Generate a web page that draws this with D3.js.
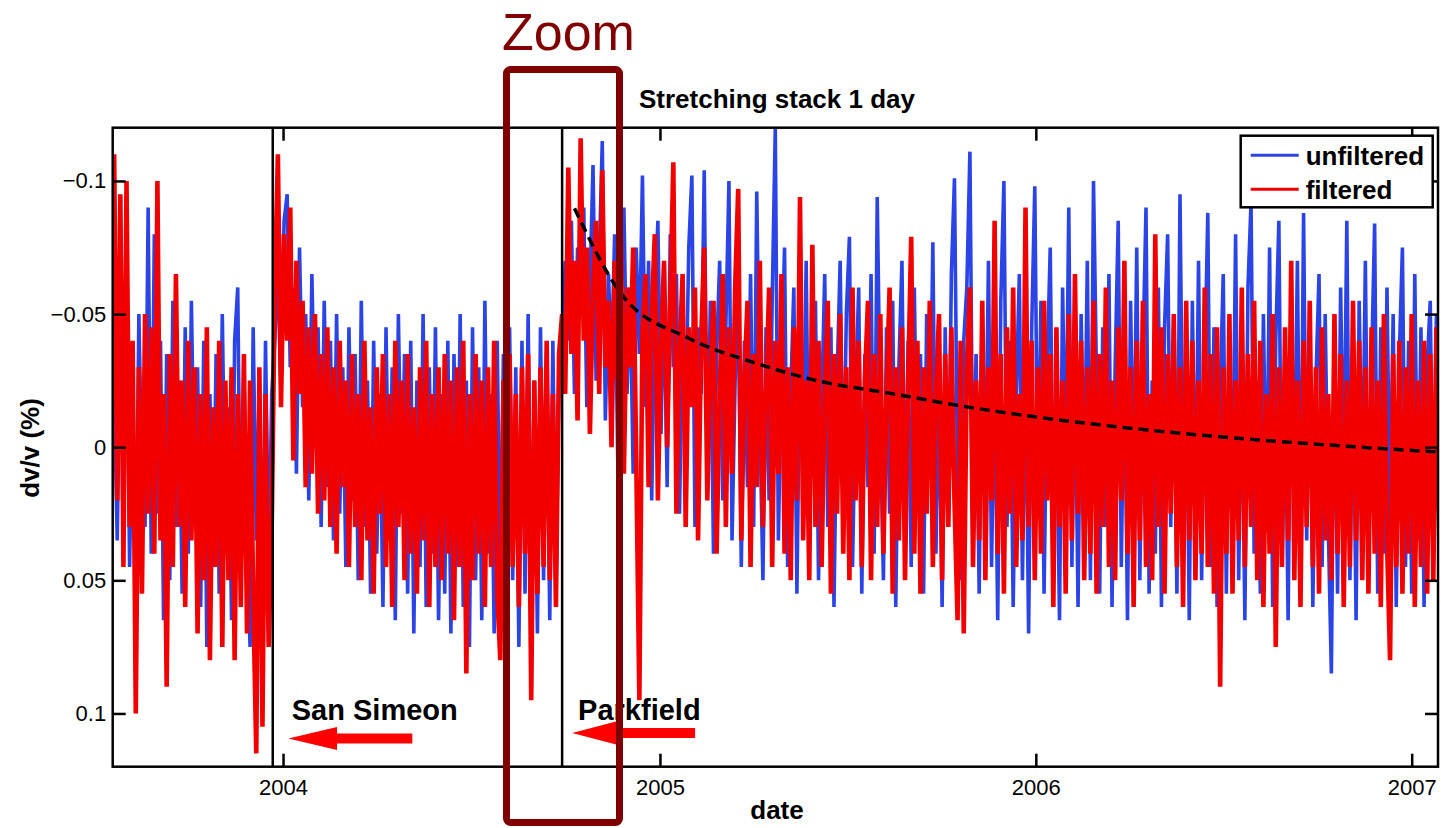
<!DOCTYPE html>
<html>
<head>
<meta charset="utf-8">
<script src="https://cdn.jsdelivr.net/npm/d3@7"></script>
<style>
  body { margin: 0; background: #fff; }
  text { font-family: "Liberation Sans", Arial, Helvetica, sans-serif; }
</style>
</head>
<body>
<svg id="chart"></svg>
<script>
// dv/v, one sample every 3 days from 2003-07-21, in units of 0.001 %
const sampleStart = "2003-07-21";
const sampleStepDays = 3;

const unfilteredBeforeSanSimeon = [
  -20,35,-45,20,-60,45,-30,60,-50,15,30,-90,40,-80,25,-40,65,-35,50,-55,
  30,-25,55,-45,40,-55,20,-30,60,-40,75,-20,45,-35,55,-50,30,-15,65,-40,
  -60,50,-30,40,75,-45,35,-25,60,-40,50,-20
];
const unfilteredBeforeParkfield = [
  -40,-70,-20,-85,-95,-30,-60,10,-75,-15,-50,20,-65,-5,-45,30,-55,15,-40,35,
  -50,25,-30,45,-45,20,-35,50,-55,30,-25,55,-40,40,-20,60,-45,35,-30,65,
  -50,25,-35,55,-40,70,-25,45,-50,60,-30,40,-45,65,-20,55,-40,70,-35,45,
  -50,60,-25,75,-45,50,-30,65,-55,40,-20,70,-40,55,-35,65,-45,50,-30,75,
  -40,55,-50,60,-25,70,-45,50,-35,65,-40,55,-30
];
const unfilteredAfterParkfield = [
  -30,-70,-40,-85,-20,-75,-50,-90,-15,-60,-106,-25,-70,-115,-10,-65,-30,-80,5,-55,
  -90,-20,-60,10,-75,-35,-102,-15,-70,20,-55,-85,-5,-60,15,-80,-30,-65,25,-50,
  -10,-75,-102,30,-45,-20,-104,10,-55,40,-35,-70,20,-45,-100,35,-25,-60,45,-40,
  15,-65,30,-96,-10,50,-45,20,-55,-120,35,-30,-75,45,-20,-60,55,-40,10,-70,
  40,-35,-55,50,-15,-65,30,-45,60,-25,-70,25,-50,-79,45,-20,-60,55,-35,15,
  -65,40,-94,-10,50,-45,25,-55,60,-30,-70,35,-40,45,-60,20,-35,55,-50,10,
  -77,40,-25,60,-45,30,-65,-101,15,50,-40,-60,-111,25,-35,55,-50,20,-70,45,
  -30,65,-55,-100,30,-40,60,-20,-65,50,-35,70,-45,-98,25,-55,55,-30,-75,40,
  -20,65,-60,15,-90,45,-35,60,-50,20,-70,50,-100,-25,55,-45,30,-65,60,-30,
  -85,45,-40,65,-55,20,-75,50,-35,-90,55,-25,40,-60,60,-45,-80,30,-50,55,
  -95,20,-40,65,-55,35,-70,50,-30,-88,45,-45,60,-20,-65,55,-40,25,-80,50,
  -35,65,-60,-92,40,-25,55,-50,30,-75,60,-40,-85,45,-30,65,-55,20,-70,50,
  -88,35,-45,60,-25,-65,45,-50,30,85,-40,55,-60,20,-85,50,-35,65,-55,25,
  -70,45,-30,-84,55,-45,40,-60,30,-50,60,-35,-75,45,-40,55,-65,35,-45,60,-30,-55,40,-50,30
];

const filteredBeforeSanSimeon = [
  -110,20,-95,45,-100,30,-40,100,-30,55,-50,25,-45,40,-100,35,-20,90,-35,45,
  -65,30,-25,60,-40,35,-30,70,-20,50,-45,80,-15,45,-40,75,-25,50,-30,80,
  -20,60,-35,70,-25,55,115,-30,105,-20,75,30
];
const filteredBeforeParkfield = [
  -60,-110,-15,-80,-40,-90,5,-70,-20,-55,15,-45,10,-50,25,-35,20,-45,30,-30,
  40,-40,15,-25,45,-35,30,-20,50,-40,35,-15,55,-30,25,-35,45,-20,60,-40,
  30,-25,50,-35,40,-15,55,-30,35,-40,60,-20,45,-30,50,-35,40,-25,65,-30,
  45,-40,85,-20,50,-35,40,-25,60,-30,45,-40,55,80,-25,50,-35,45,-20,60,
  -30,40,-35,95,-25,55,-30,45,-40,50,-20,60,-35
];
const filteredAfterParkfield = [
  -50,-20,-105,-35,-70,-10,-116,-40,-75,-5,-60,-85,-20,-104,-30,-55,0,-70,-25,-80,
  10,-60,-30,-75,5,95,-45,-65,15,-50,-80,20,-40,-70,0,-55,-107,25,-35,-65,
  30,-45,-15,-60,35,-40,-75,20,-30,-55,40,-20,-65,30,-45,10,-60,-97,35,-25,
  -55,45,-35,15,-70,30,-20,-60,45,-40,10,-65,40,-30,50,-45,20,-94,35,-25,
  50,-76,30,-40,45,-20,-55,55,-35,25,-50,40,-30,50,-60,20,-40,45,-25,-55,
  50,-35,30,-50,40,-20,-60,55,-30,35,-45,50,-25,-79,40,-40,55,-30,25,-55,
  45,-20,-50,50,-35,30,-45,20,65,-40,70,-30,-60,45,-25,35,-55,50,-30,20,
  -85,40,-35,55,-45,25,-60,45,-20,35,-90,30,-40,50,-30,40,-55,20,-35,60,
  -45,30,-25,55,-50,35,-65,25,-40,50,-30,40,-55,55,-35,30,-60,45,-25,50,
  -45,20,-70,40,-30,60,-40,35,-55,45,-20,50,-80,30,-45,55,-35,25,-50,45,
  -30,60,-55,35,-40,50,-25,40,-60,45,-35,55,-45,90,-30,40,-50,55,-25,35,
  -60,45,-35,30,-55,50,-40,60,-20,40,-50,75,-30,45,-45,35,-70,50,-25,60,
  -40,30,-55,45,-30,55,-45,35,-20,50,-50,40,-35,60,-25,45,-55,35,-40,50,
  -30,55,-45,40,-25,60,-50,35,80,-35,45,-40,55,-30,40,-50,60,-25,45,-40,55,-35,50,-45,40
];

// relaxation fit after Parkfield (dashed curve), dv/v in %
const fitDates = ["2004-10-10","2004-11-25","2005-01-28","2005-04-03","2005-06-07","2005-08-10",
                  "2005-10-27","2006-03-04","2006-06-09","2006-09-14","2007-01-26"];
const fitValues = [-0.0897,-0.0573,-0.0411,-0.0317,-0.0246,-0.0204,-0.0151,-0.0084,-0.0046,-0.0016,0.0018];

const eventNames = ["San Simeon", "Parkfield"];
const eventDates = ["2003-12-22", "2004-09-28"];

const yearTicks = [2004, 2005, 2006, 2007];
const dvvTicks = [-0.1, -0.05, 0, 0.05, 0.1];
const seriesNames = ["unfiltered", "filtered"];
const seriesColors = ["#2b44e6", "#f20000"];
const seriesWidths = [3.6, 4.6];

// ---- layout
const width = 1441, height = 828;
const plot = { left: 112.7, top: 127.7, right: 1438, bottom: 766.7 };
const plotW = plot.right - plot.left, plotH = plot.bottom - plot.top;
const parseDay = d3.timeParse("%Y-%m-%d");

const svg = d3.select("#chart").attr("width", width).attr("height", height);
svg.append("rect").attr("width", width).attr("height", height).attr("fill", "#fff");

const x = d3.scaleTime()
    .domain([new Date(2003, 6, 19, 14), new Date(2007, 0, 26, 13)])
    .range([0, plotW]);
const y = d3.scaleLinear().domain([-0.12, 0.12]).range([0, plotH]);

const start = parseDay(sampleStart);
const toSeries = parts => [].concat(...parts).map((v, i) => ({
    date: d3.timeDay.offset(start, i * sampleStepDays),
    value: v / 1000
}));
const series = [
    toSeries([unfilteredBeforeSanSimeon, unfilteredBeforeParkfield, unfilteredAfterParkfield]),
    toSeries([filteredBeforeSanSimeon, filteredBeforeParkfield, filteredAfterParkfield])
];

const g = svg.append("g").attr("transform", `translate(${plot.left},${plot.top})`);
svg.append("defs").append("clipPath").attr("id", "clip")
    .append("rect").attr("width", plotW).attr("height", plotH);

const line = d3.line().x(d => x(d.date)).y(d => y(d.value));
const lines = g.append("g").attr("clip-path", "url(#clip)");
series.forEach((s, k) => {
    lines.append("path")
        .datum(s)
        .attr("fill", "none")
        .attr("stroke", seriesColors[k])
        .attr("stroke-width", seriesWidths[k])
        .attr("stroke-linejoin", "bevel")
        .attr("d", line);
});

// fitted decay
const fit = fitDates.map((d, i) => ({ date: parseDay(d), value: fitValues[i] }));
lines.append("path")
    .datum(fit)
    .attr("fill", "none")
    .attr("stroke", "#000")
    .attr("stroke-width", 3.5)
    .attr("stroke-dasharray", "10,6")
    .attr("d", line.curve(d3.curveMonotoneX));

// earthquake markers
const events = eventNames.map((n, i) => ({ name: n, date: parseDay(eventDates[i]) }));
g.selectAll(".event")
    .data(events)
    .join("line")
    .attr("class", "event")
    .attr("x1", d => x(d.date)).attr("x2", d => x(d.date))
    .attr("y1", 0).attr("y2", plotH)
    .attr("stroke", "#000")
    .attr("stroke-width", 2.5);

// axes, matlab style: ticks inside on all four sides
const yearDates = yearTicks.map(yr => new Date(yr, 0, 1));
const styleAxis = sel => {
    sel.select(".domain").remove();
    sel.selectAll(".tick line").attr("stroke-width", 2.5);
    sel.attr("font-size", 22).attr("font-family", "Liberation Sans, Arial, sans-serif");
    sel.selectAll(".tick text").attr("fill", "#000");
};
g.append("g").attr("transform", `translate(0,${plotH})`)
    .call(d3.axisBottom(x).tickValues(yearDates).tickFormat(d3.timeFormat("%Y"))
        .tickSizeInner(-13).tickSizeOuter(0).tickPadding(12.3))
    .call(styleAxis);
g.append("g")
    .call(d3.axisTop(x).tickValues(yearDates).tickFormat(() => "").tickSizeInner(-13).tickSizeOuter(0))
    .call(styleAxis);
g.append("g")
    .call(d3.axisLeft(y).tickValues(dvvTicks).tickFormat(d3.format(""))
        .tickSizeInner(-13).tickSizeOuter(0).tickPadding(6.5))
    .call(styleAxis);
g.append("g").attr("transform", `translate(${plotW},0)`)
    .call(d3.axisRight(y).tickValues(dvvTicks).tickFormat(() => "").tickSizeInner(-13).tickSizeOuter(0))
    .call(styleAxis);

g.append("rect")
    .attr("width", plotW).attr("height", plotH)
    .attr("fill", "none").attr("stroke", "#000").attr("stroke-width", 2.5);

// titles
svg.append("text").attr("x", 777).attr("y", 108).attr("text-anchor", "middle")
    .attr("font-size", 26).attr("font-weight", "bold").text("Stretching stack 1 day");
svg.append("text").attr("x", 777).attr("y", 819).attr("text-anchor", "middle")
    .attr("font-size", 26).attr("font-weight", "bold").text("date");
svg.append("text").attr("transform", "translate(39,448) rotate(-90)").attr("text-anchor", "middle")
    .attr("font-size", 26).attr("font-weight", "bold").text("dv/v (%)");

// legend
const legend = svg.append("g").attr("transform", "translate(1240.7,135.7)");
legend.append("rect").attr("width", 192).attr("height", 71.6)
    .attr("fill", "#fff").attr("stroke", "#000").attr("stroke-width", 2.5);
seriesNames.forEach((name, k) => {
    const cy = 19.5 + k * 34;
    legend.append("line").attr("x1", 10).attr("x2", 58).attr("y1", cy).attr("y2", cy)
        .attr("stroke", seriesColors[k]).attr("stroke-width", 3);
    legend.append("text").attr("x", 65).attr("y", cy + 9.5)
        .attr("font-size", 26).attr("font-weight", "bold").text(name);
});

// event annotations with red arrows pointing back in time
const annot = [
    { labelDx: 19, tipDx: 15.6, cy: 738.5, head: 48.7, len: 124 },
    { labelDx: 16, tipDx: 10, cy: 733, head: 44, len: 123 }
];
events.forEach((ev, i) => {
    const a = annot[i];
    const ex = plot.left + x(ev.date);
    svg.append("text").attr("x", ex + a.labelDx).attr("y", 720)
        .attr("font-size", 29).attr("font-weight", "bold").text(ev.name);
    const tx = ex + a.tipDx, hh = 11.5, sh = 5;
    const pts = [[tx, a.cy], [tx + a.head, a.cy - hh], [tx + a.head, a.cy - sh], [tx + a.len, a.cy - sh],
                 [tx + a.len, a.cy + sh], [tx + a.head, a.cy + sh], [tx + a.head, a.cy + hh]];
    svg.append("path").attr("d", "M" + pts.join("L") + "Z").attr("fill", "#ff0000");
});

// zoom window overlay
svg.append("text").attr("x", 502).attr("y", 50)
    .attr("font-family", "Lato, 'Open Sans', sans-serif").attr("font-size", 52)
    .attr("fill", "#800000").text("Zoom");
svg.append("rect").attr("x", 506.5).attr("y", 69.5).attr("width", 113).attr("height", 753)
    .attr("rx", 4).attr("fill", "none").attr("stroke", "#7f0000").attr("stroke-width", 7);
</script>
</body>
</html>
